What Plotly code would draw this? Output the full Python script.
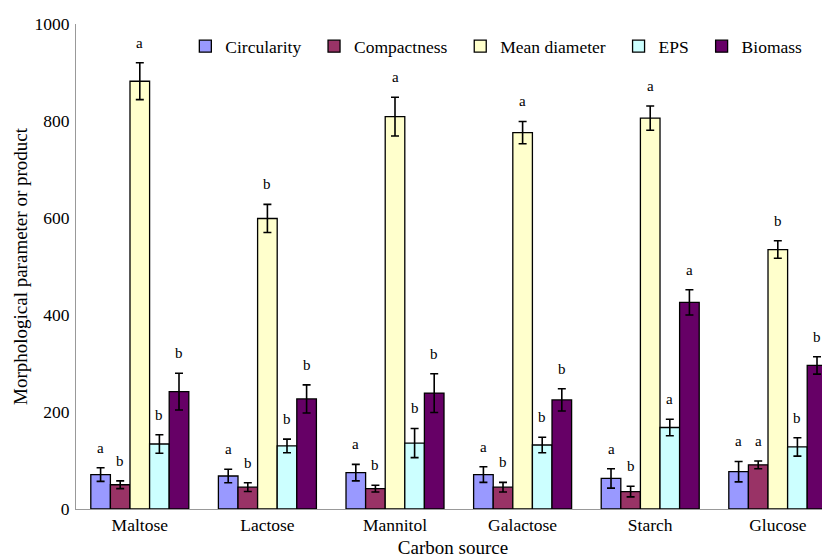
import plotly.graph_objects as go

categories = ["Maltose", "Lactose", "Mannitol", "Galactose", "Starch", "Glucose"]
series_names = ["Circularity", "Compactness", "Mean diameter", "EPS", "Biomass"]

circularity = [71, 68, 75, 71, 63, 77]
circularity_err = [14, 14, 17, 16, 20, 21]
compactness = [50, 45, 42, 45, 36, 91]
compactness_err = [8, 9, 7, 10, 11, 8]
mean_diameter = [882, 599, 809, 776, 806, 535]
mean_diameter_err = [38, 29, 40, 23, 25, 18]
eps = [134, 130, 136, 132, 168, 128]
eps_err = [19, 14, 30, 16, 17, 19]
biomass = [242, 227, 239, 225, 426, 296]
biomass_err = [38, 29, 40, 23, 26, 18]

circularity_sig = ["a", "a", "a", "a", "a", "a"]
compactness_sig = ["b", "b", "b", "b", "b", "a"]
mean_diameter_sig = ["a", "b", "a", "a", "a", "b"]
eps_sig = ["b", "b", "b", "b", "a", "b"]
biomass_sig = ["b", "b", "b", "b", "a", "b"]

colors = ["#9999FF", "#993366", "#FFFFCC", "#CCFFFF", "#660066"]

values = [circularity, compactness, mean_diameter, eps, biomass]
errors = [circularity_err, compactness_err, mean_diameter_err, eps_err, biomass_err]
sigs = [circularity_sig, compactness_sig, mean_diameter_sig, eps_sig, biomass_sig]

serif = "Liberation Serif, Times New Roman, serif"
BARGAP = 0.232

fig = go.Figure()
for name, v, e, c in zip(series_names, values, errors, colors):
    fig.add_trace(go.Bar(
        name=name + "\u00a0\u2009", x=categories, y=v,
        marker=dict(color=c, line=dict(color="black", width=1.3)),
        error_y=dict(type="data", array=e, visible=True, color="black", thickness=1.6, width=4),
    ))

# significance letters above each error bar
n = len(series_names)
group_w = 1 - BARGAP
bar_w = group_w / n
annotations = []
for si, (v, e, s) in enumerate(zip(values, errors, sigs)):
    for ci, cat in enumerate(categories):
        xpos = ci - group_w / 2 + bar_w * (si + 0.5)
        annotations.append(dict(
            x=xpos, y=v[ci] + e[ci], xref="x", yref="y",
            text=s[ci], showarrow=False, yanchor="middle", yshift=20,
            font=dict(family=serif, size=15, color="black"),
        ))

# page body has an 8px margin, so the figure is sized to fill the rest of the window
fig.update_layout(
    width=822, height=550,
    margin=dict(l=68, r=0, t=15.5, b=48.7),
    paper_bgcolor="white", plot_bgcolor="white",
    barmode="group", bargap=BARGAP, bargroupgap=0,
    font=dict(family=serif, size=17, color="black"),
    showlegend=True,
    legend=dict(orientation="h", x=0.145, xanchor="left", y=0.954, yanchor="middle",
                bgcolor="rgba(0,0,0,0)", font=dict(family=serif, size=17.5)),
    annotations=annotations,
    xaxis=dict(
        type="category", range=[-0.5, 5.409], showline=True, linecolor="#999999", linewidth=1,
        ticks="", showgrid=False, zeroline=False, automargin=False,
        tickfont=dict(family=serif, size=17.5),
        title=dict(text="Carbon source", font=dict(family=serif, size=19), standoff=10),
    ),
    yaxis=dict(
        range=[0, 1000], tickvals=[0, 200, 400, 600, 800, 1000],
        showline=True, linecolor="#999999", linewidth=1, ticks="", showgrid=False, zeroline=False,
        automargin=False, ticklabelstandoff=2,
        tickfont=dict(family=serif, size=17.5),
        title=dict(text="Morphological parameter or product", font=dict(family=serif, size=19), standoff=1),
    ),
)

fig.write_html("out.html")
